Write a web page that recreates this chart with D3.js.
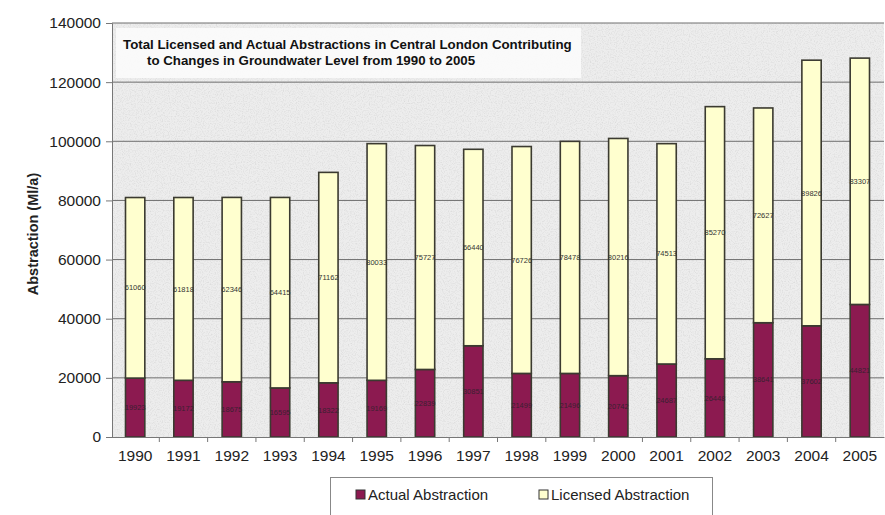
<!DOCTYPE html>
<html>
<head>
<meta charset="utf-8">
<script src="https://cdn.jsdelivr.net/npm/d3@7"></script>
<style>
  body { margin: 0; background: #fff; }
  svg { display: block; font-family: Arial, "Liberation Sans", sans-serif; }
</style>
</head>
<body>
<div id="chart"></div>
<script>
const years = ["1990", "1991", "1992", "1993", "1994", "1995", "1996", "1997",
  "1998", "1999", "2000", "2001", "2002", "2003", "2004", "2005"]
const actual = [19923, 19172, 18675, 16595, 18322, 19169, 22839, 30851,
  21499, 21496, 20742, 24687, 26448, 38641, 37602, 44821]
const licensed = [61060, 61818, 62346, 64415, 71162, 80033, 75727, 66440,
  76726, 78478, 80216, 74513, 85270, 72627, 89826, 83307]
const yTicks = [0, 20000, 40000, 60000, 80000, 100000, 120000, 140000]
const titleLines = [
  "Total Licensed and Actual Abstractions in Central London Contributing",
  "to Changes in Groundwater Level from 1990 to 2005"
]
const seriesNames = ["Actual Abstraction", "Licensed Abstraction"]

const width = 885, height = 515
const margin = { top: 23, right: 1, bottom: 78, left: 112 }
const actualColor = "#8c1a50"
const licensedColor = "#ffffcf"

const svg = d3.select("#chart").append("svg")
  .attr("width", width).attr("height", height)

// grainy plot background
const defs = svg.append("defs")
const noise = defs.append("filter").attr("id", "grain")
  .attr("x", 0).attr("y", 0).attr("width", "100%").attr("height", "100%")
noise.append("feTurbulence").attr("type", "fractalNoise")
  .attr("baseFrequency", 0.85).attr("numOctaves", 2).attr("seed", 3)
noise.append("feColorMatrix").attr("type", "matrix")
  .attr("values", "0 0 0 0 0.55  0 0 0 0 0.55  0 0 0 0 0.55  0 0 0 2.2 -1.0")

const x = d3.scaleBand().domain(years)
  .range([margin.left - 1, width - margin.right]).paddingInner(0.6).paddingOuter(0.3)
const y = d3.scaleLinear().domain([0, 140000])
  .range([height - margin.bottom, margin.top])

const plotW = width - margin.right - margin.left
const plotH = height - margin.bottom - margin.top
svg.append("rect")
  .attr("x", margin.left).attr("y", margin.top)
  .attr("width", plotW).attr("height", plotH)
  .attr("fill", "#ededed")
svg.append("rect")
  .attr("x", margin.left).attr("y", margin.top)
  .attr("width", plotW).attr("height", plotH)
  .attr("fill", "#fff").attr("filter", "url(#grain)").attr("opacity", 0.45)

// gridlines
svg.append("g").selectAll("line")
  .data(yTicks.filter(d => d > 0))
  .enter().append("line")
  .attr("x1", margin.left).attr("x2", width - margin.right)
  .attr("y1", d => y(d)).attr("y2", d => y(d))
  .attr("stroke", "#6e6e6e").attr("stroke-width", 1)

// title box
svg.append("rect")
  .attr("x", 116).attr("y", 28).attr("width", 465).attr("height", 50)
  .attr("fill", "#fbfbfb").attr("opacity", 0.92)
svg.append("text")
  .attr("font-size", 13.3).attr("font-weight", "bold").attr("fill", "#111")
  .selectAll("tspan").data(titleLines).enter().append("tspan")
  .attr("x", (d, i) => i === 0 ? 123 : 147)
  .attr("y", (d, i) => 49 + i * 16)
  .text(d => d)

// stacked bars
const rows = years.map((yr, i) => ({ year: yr, actual: actual[i], licensed: licensed[i] }))
const stack = d3.stack().keys(["actual", "licensed"])(rows)
const colors = [actualColor, licensedColor]

stack.forEach((layer, li) => {
  svg.append("g").selectAll("rect")
    .data(layer).enter().append("rect")
    .attr("x", d => x(d.data.year))
    .attr("y", d => y(d[1]))
    .attr("width", x.bandwidth())
    .attr("height", d => y(d[0]) - y(d[1]))
    .attr("fill", colors[li])
    .attr("stroke", "#3b3a30").attr("stroke-width", 1.6)
})

// value labels
stack.forEach((layer, li) => {
  svg.append("g").selectAll("text")
    .data(layer).enter().append("text")
    .attr("x", d => x(d.data.year) + x.bandwidth() / 2)
    .attr("y", d => y((d[0] + d[1]) / 2))
    .attr("dy", "0.35em")
    .attr("text-anchor", "middle")
    .attr("font-size", 7.5)
    .attr("fill", li === 0 ? "#3a2030" : "#333")
    .text(d => d.data[li === 0 ? "actual" : "licensed"])
})

// axes
const yAxis = d3.axisLeft(y).tickValues(yTicks).tickSize(6).tickPadding(5)
  .tickFormat(d3.format("d"))
const gy = svg.append("g").attr("transform", `translate(${margin.left},0)`).call(yAxis)
gy.select(".domain").attr("stroke", "#777")
gy.selectAll(".tick line").attr("stroke", "#777")
gy.selectAll("text").attr("font-size", 15.5).attr("fill", "#222")
  .attr("font-family", "Arial, 'Liberation Sans', sans-serif")

const xAxis = d3.axisBottom(x).tickSize(0).tickPadding(13)
const gx = svg.append("g").attr("transform", `translate(0,${height - margin.bottom})`).call(xAxis)
gx.select(".domain").attr("stroke", "#777")
gx.selectAll("text").attr("font-size", 15.5).attr("fill", "#222")
  .attr("font-family", "Arial, 'Liberation Sans', sans-serif")
// tick marks between categories
const step = x.step()
svg.append("g").selectAll("line")
  .data(years.slice(1)).enter().append("line")
  .attr("x1", d => x(d) - step * x.paddingInner() / 2)
  .attr("x2", d => x(d) - step * x.paddingInner() / 2)
  .attr("y1", height - margin.bottom).attr("y2", height - margin.bottom + 5)
  .attr("stroke", "#777")

// y axis title
svg.append("text")
  .attr("transform", `translate(38,${(margin.top + height - margin.bottom) / 2 + 4}) rotate(-90)`)
  .attr("text-anchor", "middle")
  .attr("font-size", 14.5).attr("font-weight", "bold").attr("fill", "#222")
  .text("Abstraction (Ml/a)")

// legend
const legend = svg.append("g")
legend.append("rect")
  .attr("x", 330.5).attr("y", 477.5).attr("width", 382).attr("height", 45)
  .attr("fill", "#fff").attr("stroke", "#888")
const legendX = [356, 539]
seriesNames.forEach((name, i) => {
  legend.append("rect")
    .attr("x", legendX[i]).attr("y", 490).attr("width", 9).attr("height", 9)
    .attr("fill", colors[i]).attr("stroke", "#333")
  legend.append("text")
    .attr("x", legendX[i] + 12).attr("y", 500)
    .attr("font-size", 15).attr("fill", "#222")
    .text(name)
})
</script>
</body>
</html>
